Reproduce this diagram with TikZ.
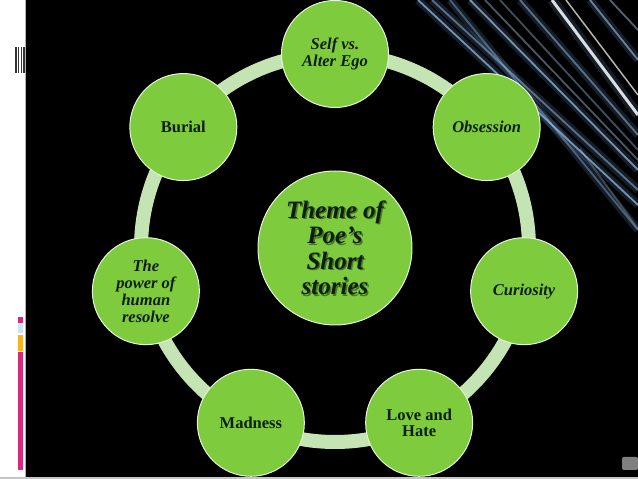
\documentclass[tikz,border=0pt]{standalone}
\usepackage{fontspec}
\setmainfont{Liberation Serif}
\usetikzlibrary{calc}

\definecolor{leafgreen}{RGB}{126,203,62}
\definecolor{ringgreen}{RGB}{197,228,180}
\definecolor{inkgreen}{RGB}{14,30,12}
\definecolor{barpink}{RGB}{214,42,124}
\definecolor{barblue}{RGB}{205,226,244}
\definecolor{barorange}{RGB}{246,180,30}
\definecolor{streakblue}{RGB}{120,170,225}

\tikzset{
  theme/.style={circle, draw=white!80!leafgreen, line width=1pt, fill=leafgreen,
    minimum size=107pt, inner sep=0pt, align=center, text=inkgreen,
    font=\bfseries\fontsize{16.5}{16.8}\selectfont},
  themeit/.style={theme, font=\bfseries\itshape\fontsize{16.5}{16.8}\selectfont},
  hub/.style={theme, minimum size=154pt},
  hubtext/.style={align=center, text=inkgreen, inner sep=0pt,
    font=\bfseries\itshape\fontsize{25}{25.5}\selectfont},
  ringline/.style={draw=ringgreen, line width=14pt},
  streakglow/.style={streakblue, line width=8pt, opacity=0.18},
  streak/.style={streakblue!70!white, line width=1.8pt, opacity=0.7}
}

\begin{document}
\begin{tikzpicture}[x=1pt,y=1pt]
        \useasboundingbox (0,0) rectangle (638,479);

        % Slide background
        \fill[white] (0,0) rectangle (638,479);
        \fill[black] (26,2) rectangle (638,479);
        \fill[gray!45] (0,0) rectangle (638,2);
        \draw[gray!60, line width=1pt] (25.5,2) -- (25.5,479);

        % Left margin marks
        \fill[black!80] (15,406) rectangle (16.5,432);
        \fill[black!80] (17.5,406) rectangle (19,432);
        \fill[black!80] (20.5,406) rectangle (22,432);
        \fill[black!80] (23,406) rectangle (24.5,432);
        \fill[barpink] (18,156) rectangle (23,162);
        \fill[barblue] (18,146) rectangle (23,155);
        \fill[barorange] (18,128) rectangle (23,144);
        \fill[barpink] (18,9) rectangle (23,127);

        % Light streaks
        \begin{scope}
            \clip (26,2) rectangle (638,479);
            \draw[streakglow] (418,479) -- (638,274);
            \draw[streak] (418,479) -- (638,274);
            \draw[streakglow] (432,479) -- (638,289);
            \draw[streak, opacity=0.5] (432,479) -- (638,289);
            \draw[streakglow] (450,479) -- (638,249);
            \draw[streak, opacity=0.4] (450,479) -- (638,249);
            \draw[streakglow] (470,479) -- (638,309);
            \draw[streak] (470,479) -- (638,309);
            \draw[streak, opacity=0.45] (485,479) -- (638,319);
            \draw[streak, opacity=0.4] (500,479) -- (638,329);
            \draw[streakglow] (520,479) -- (638,344);
            \draw[streak, opacity=0.5] (520,479) -- (638,344);
            \draw[streakglow, line width=10pt] (552,479) -- (638,364);
            \draw[streak, white, line width=3pt, opacity=0.85] (552,479) -- (638,364);
            \draw[streak, white, line width=1.5pt, opacity=0.7] (566,479) -- (638,384);
            \draw[streakglow] (590,479) -- (638,419);
            \draw[streak, opacity=0.6] (590,479) -- (638,419);
            \draw[streak, opacity=0.5] (610,479) -- (638,449);
            \draw[streak, opacity=0.3] (580,330) -- (638,250);
        \end{scope}
        \fill[gray!75, rounded corners=2pt, opacity=0.8] (622,9) rectangle (638,22);

        % Ring
        \coordinate (ring) at (335,231);
        \draw[ringline] (ring) circle[radius=194pt];

        % Outer circles
        \node[themeit] (selfego) at ($(ring)+(90:194)$) {Self vs.\\Alter Ego};
        \node[themeit] (obsession) at ($(ring)+(38.57:194)$) {Obsession};
        \node[themeit] (curiosity) at ($(ring)+(-12.86:194)$) {Curiosity};
        \node[theme] (lovehate) at ($(ring)+(-64.29:194)$) {Love and\\Hate};
        \node[theme] (madness) at ($(ring)+(-115.71:194)$) {Madness};
        \node[themeit] (resolve) at ($(ring)+(-167.14:194)$) {The\\power of\\human\\resolve};
        \node[theme] (burial) at ($(ring)+(141.43:194)$) {Burial};

        % Centre circle
        \node[hub] (hub) at (ring) {};
        \node[hubtext, text=inkgreen!70!leafgreen, opacity=0.7] (themeshadow) at ($(hub.center)+(1.5,-1.5)$) {Theme of\\Poe’s\\Short\\stories};
        \node[hubtext] (theme) at (hub.center) {Theme of\\Poe’s\\Short\\stories};
    \end{tikzpicture}
\end{document}
